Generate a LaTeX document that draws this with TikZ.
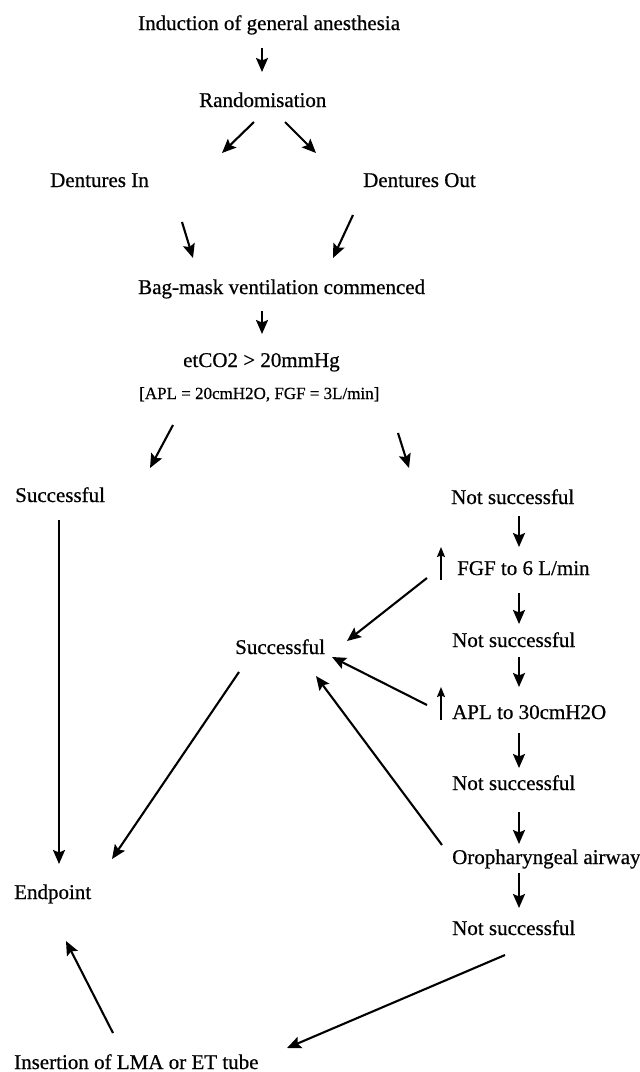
\documentclass[tikz,border=0pt]{standalone}
\usepackage{fontspec}
\setmainfont{Liberation Serif}[FakeBold=0.6]
\usetikzlibrary{arrows.meta}
\begin{document}
\begin{tikzpicture}[x=1pt,y=-1pt,
  txt/.style={anchor=base west,inner sep=0pt,font=\fontsize{21}{25}\selectfont},
  smalltxt/.style={anchor=base west,inner sep=0pt,font=\fontsize{17}{20}\selectfont},
  arr/.style={line width=2.1pt,-{Stealth[length=14pt,width=12pt,inset=2.5pt]}},
  uparr/.style={line width=1.6pt,-{Stealth[length=10pt,width=8pt,inset=1.5pt]}}]
\fill[white] (0,0) rectangle (640,1072);
\useasboundingbox (0,0) rectangle (640,1072);
% text nodes
\node[txt] (induct) at (138,30) {Induction of general anesthesia};
\node[txt] (random) at (199,107) {Randomisation};
\node[txt] (din) at (50,187) {Dentures In};
\node[txt] (dout) at (363,187) {Dentures Out};
\node[txt] (bag) at (138,294) {Bag-mask ventilation commenced};
\node[txt] (etco) at (183,367) {etCO2 > 20mmHg};
\node[smalltxt] (apl) at (139,399) {[APL = 20cmH2O, FGF = 3L/min]};
\node[txt] (succA) at (15,502) {Successful};
\node[txt] (nsA) at (451,504) {Not successful};
\node[txt] (fgf) at (457,575) {FGF to 6 L/min};
\node[txt] (nsB) at (452,647) {Not successful};
\node[txt] (aplup) at (452,719) {APL to 30cmH2O};
\node[txt] (nsC) at (452,790) {Not successful};
\node[txt] (oro) at (452,864) {Oropharyngeal airway};
\node[txt] (nsD) at (452,935) {Not successful};
\node[txt] (succB) at (235,654) {Successful};
\node[txt] (endp) at (14,899) {Endpoint};
\node[txt] (insert) at (14,1069) {Insertion of LMA or ET tube};
% connector end points
\coordinate (a1s) at (262,48);  \coordinate (a1e) at (262,72);
\coordinate (a2s) at (254,122); \coordinate (a2e) at (222,153);
\coordinate (a3s) at (285,122); \coordinate (a3e) at (316,153);
\coordinate (a4s) at (182,222); \coordinate (a4e) at (193,258);
\coordinate (a5s) at (353,215); \coordinate (a5e) at (333,258);
\coordinate (a6s) at (262,311); \coordinate (a6e) at (262,334);
\coordinate (a7s) at (173,425); \coordinate (a7e) at (150,468);
\coordinate (a8s) at (398,433); \coordinate (a8e) at (409,468);
\coordinate (a9s) at (59,520);  \coordinate (a9e) at (59,864);
\coordinate (a10s) at (519,516); \coordinate (a10e) at (519,547);
\coordinate (u1s) at (441,580); \coordinate (u1e) at (441,547);
\coordinate (a12s) at (519,593); \coordinate (a12e) at (519,624);
\coordinate (a13s) at (427,578); \coordinate (a13e) at (347,641);
\coordinate (a14s) at (519,657); \coordinate (a14e) at (519,687);
\coordinate (u2s) at (441,720); \coordinate (u2e) at (441,687);
\coordinate (a16s) at (427,705); \coordinate (a16e) at (332,657);
\coordinate (a17s) at (519,733); \coordinate (a17e) at (519,768);
\coordinate (a18s) at (519,812); \coordinate (a18e) at (519,844);
\coordinate (a19s) at (442,845); \coordinate (a19e) at (316,676);
\coordinate (a20s) at (239,672); \coordinate (a20e) at (112,859);
\coordinate (a21s) at (519,873); \coordinate (a21e) at (519,908);
\coordinate (a22s) at (505,955); \coordinate (a22e) at (287,1048);
\coordinate (a23s) at (113,1033); \coordinate (a23e) at (66,941);
% connectors
\draw[arr] (a1s) -- (a1e);
\draw[arr] (a2s) -- (a2e);
\draw[arr] (a3s) -- (a3e);
\draw[arr] (a4s) -- (a4e);
\draw[arr] (a5s) -- (a5e);
\draw[arr] (a6s) -- (a6e);
\draw[arr] (a7s) -- (a7e);
\draw[arr] (a8s) -- (a8e);
\draw[arr] (a9s) -- (a9e);
\draw[arr] (a10s) -- (a10e);
\draw[uparr] (u1s) -- (u1e);
\draw[arr] (a12s) -- (a12e);
\draw[arr] (a13s) -- (a13e);
\draw[arr] (a14s) -- (a14e);
\draw[uparr] (u2s) -- (u2e);
\draw[arr] (a16s) -- (a16e);
\draw[arr] (a17s) -- (a17e);
\draw[arr] (a18s) -- (a18e);
\draw[arr] (a19s) -- (a19e);
\draw[arr] (a20s) -- (a20e);
\draw[arr] (a21s) -- (a21e);
\draw[arr] (a22s) -- (a22e);
\draw[arr] (a23s) -- (a23e);
\end{tikzpicture}
\end{document}
